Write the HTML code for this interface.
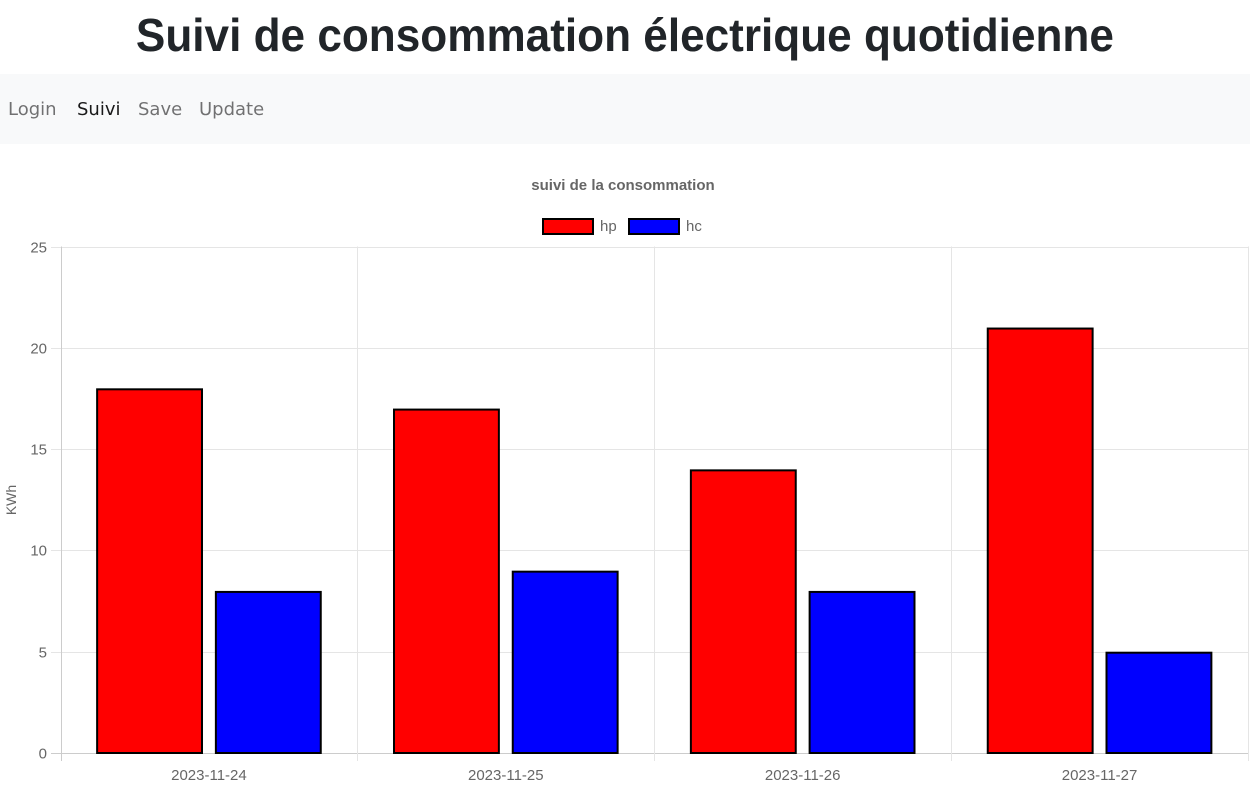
<!DOCTYPE html>
<html><head><meta charset="utf-8"><style>
body{margin:0;width:1252px;height:789px;background:#fff;font-family:"Liberation Sans",sans-serif;overflow:hidden;position:relative}
h1{margin:0;position:absolute;top:8px;left:0;width:1250px;text-align:center;font-size:46px;font-weight:bold;color:#212529;font-family:"Liberation Sans",sans-serif}
h1 span{display:inline-block;transform-origin:center;white-space:nowrap}
nav{position:absolute;top:74px;left:0;width:1250px;height:70px;background:#f8f9fa}
nav a{position:absolute;top:25px;color:rgba(0,0,0,.55);text-decoration:none;font-family:"DejaVu Sans","Liberation Sans",sans-serif;font-size:18px}
svg{position:absolute;left:0;top:0}
</style></head><body>
<h1><span id="ttl">Suivi de consommation électrique quotidienne</span></h1>
<nav>
<a style="left:8px">Login</a>
<a style="left:77px;color:rgba(0,0,0,.9)">Suivi</a>
<a style="left:138px">Save</a>
<a style="left:199px">Update</a>
</nav>
<svg id="chart" width="1252" height="789"></svg>
<script>
const categories=["2023-11-24","2023-11-25","2023-11-26","2023-11-27"];
const hpValues=[18,17,14,21];
const hcValues=[8,9,8,5];
const yTicks=[0,5,10,15,20,25];
const seriesNames=["hp","hc"];
(function(){const s=document.getElementById('ttl');const w=s.getBoundingClientRect().width;s.style.transform='scaleX('+(978/w)+')';})();
const NS="http://www.w3.org/2000/svg";
const svg=document.getElementById('chart');
const L=60.5,R=1248,T=246.5,B=753,yMax=25;
const y=v=>B-(B-T)*v/yMax;
const cw=(R-L)/categories.length;
const xc=i=>L+cw*i;
function mk(tag,attrs,parent){const e=document.createElementNS(NS,tag);for(const k in attrs)e.setAttribute(k,attrs[k]);(parent||svg).appendChild(e);return e;}
let t=mk('text',{x:623,y:190,'text-anchor':'middle','font-size':15,'font-weight':'bold',fill:'#666'});t.textContent='suivi de la consommation';


const legColors=['#f00','#00f'];
const legX=[543,629];
seriesNames.forEach((n,i)=>{
 const g=mk('g',{});
 
 
 mk('rect',{x:legX[i],y:219,width:50,height:15,fill:legColors[i],stroke:'#000','stroke-width':2},g);
 const tx=mk('text',{x:legX[i]+57,y:231,'font-size':15,fill:'#666'},g);tx.textContent=n;
});
yTicks.forEach(v=>{
 const yy=Math.round(y(v))+0.5;
 const l=mk('line',{x1:51,x2:R,y1:yy,y2:yy,stroke:v===0?'#ccc':'#e5e5e5','stroke-width':1});
 
 
 const tx=mk('text',{x:47,y:yy+5,'text-anchor':'end','font-size':15,fill:'#666'});tx.textContent=v;
 
 
});
for(let i=0;i<=categories.length;i++){
 const xx=Math.round(xc(i))+0.5;
 const l=mk('line',{x1:xx,x2:xx,y1:T,y2:761,stroke:i===0?'#ccc':'#e5e5e5'});
 
 
}
const yt=mk('text',{transform:'translate(16,500) rotate(-90)','text-anchor':'middle','font-size':14,fill:'#666'});yt.textContent='KWh';


const span=cw*0.8,bw=span/2*0.9-2;
categories.forEach((c,i)=>{
 const start=xc(i)+cw*0.1;
 [[hpValues,'#f00','hp'],[hcValues,'#00f','hc']].forEach(([arr,col,n],j)=>{
  const cx=start+span/4*(1+2*j);
  const r=mk('rect',{x:cx-bw/2,y:y(arr[i])+1,width:bw,height:B-y(arr[i])-1,fill:col,stroke:'#000','stroke-width':2});
  
  
 });
 const tx=mk('text',{x:xc(i)+cw/2,y:780,'text-anchor':'middle','font-size':15,fill:'#666'});tx.textContent=c;
 
 
});
</script>
</body></html>
